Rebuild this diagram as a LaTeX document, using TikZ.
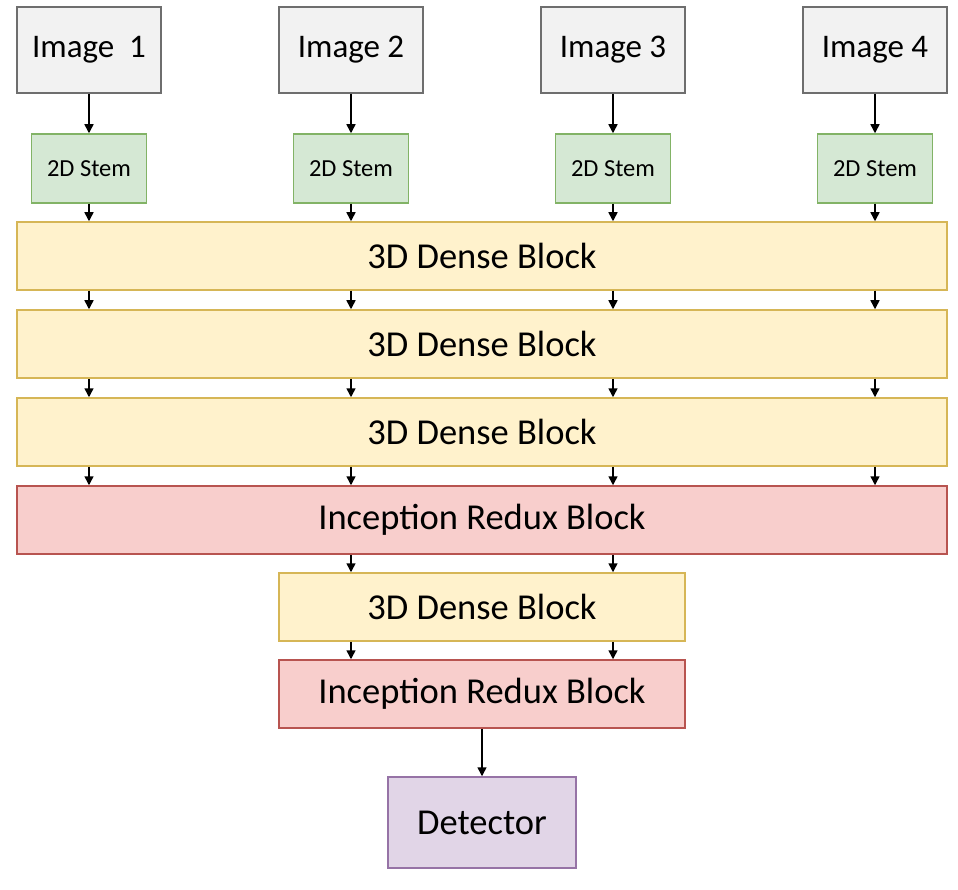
\documentclass[tikz,border=0pt]{standalone}
\usepackage{fontspec}
\setmainfont{Carlito}
\usetikzlibrary{arrows.meta}
\definecolor{grayF}{HTML}{F2F2F2}\definecolor{grayD}{HTML}{6E6E6E}
\definecolor{greenF}{HTML}{D5E8D4}\definecolor{greenD}{HTML}{82B366}
\definecolor{yelF}{HTML}{FFF2CC}\definecolor{yelD}{HTML}{D6B656}
\definecolor{redF}{HTML}{F8CECC}\definecolor{redD}{HTML}{B85450}
\definecolor{purF}{HTML}{E1D5E7}\definecolor{purD}{HTML}{9673A6}
\tikzset{
  box/.style={draw, line width=1.5pt, inner sep=0pt, font=\fontsize{36.5}{36.5}\selectfont},
  imgbox/.style={box, fill=grayF, draw=grayD, minimum width=144pt, minimum height=86pt, font=\fontsize{33}{33}\selectfont},
  stembox/.style={box, fill=greenF, draw=greenD, minimum width=115pt, minimum height=69pt, font=\fontsize{24.5}{24.5}\selectfont},
  densebox/.style={box, fill=yelF, draw=yelD, minimum height=68pt},
  incbox/.style={box, fill=redF, draw=redD, minimum height=68pt},
  detbox/.style={box, fill=purF, draw=purD, minimum width=188pt, minimum height=91pt},
  arr/.style={draw=black, line width=1.5pt, -{Triangle[length=9pt,width=9pt]}}
}
\begin{document}
\begin{tikzpicture}[x=1pt,y=-1pt]
\useasboundingbox (0,0) rectangle (958,890);
\node[imgbox] (i1) at (89,50) {Image\ \ 1};
\node[imgbox] (i2) at (351,50) {Image 2};
\node[imgbox] (i3) at (613,50) {Image 3};
\node[imgbox] (i4) at (875,50) {Image 4};
\node[stembox] (s1) at (89,168.5) {2D Stem};
\node[stembox] (s2) at (351,168.5) {2D Stem};
\node[stembox] (s3) at (613,168.5) {2D Stem};
\node[stembox] (s4) at (875,168.5) {2D Stem};
\node[densebox, minimum width=930pt] (d1) at (482,256) {3D Dense Block};
\node[densebox, minimum width=930pt] (d2) at (482,344) {3D Dense Block};
\node[densebox, minimum width=930pt] (d3) at (482,432) {3D Dense Block};
\node[incbox, minimum width=930pt] (r1) at (482,520) {Inception Redux Block};
\node[densebox, minimum width=406pt] (d4) at (482,607) {3D Dense Block};
\node[incbox, minimum width=406pt] (r2) at (482,694) {Inception Redux Block};
\node[detbox] (det) at (482,822.5) {Detector};
\foreach \k in {1,2,3,4}{
  \draw[arr] (i\k) -- (s\k);
  \draw[arr] (s\k) -- (d1.north -| s\k);
  \draw[arr] (d1.south -| s\k) -- (d2.north -| s\k);
  \draw[arr] (d2.south -| s\k) -- (d3.north -| s\k);
  \draw[arr] (d3.south -| s\k) -- (r1.north -| s\k);
}
\foreach \k in {2,3}{
  \draw[arr] (r1.south -| s\k) -- (d4.north -| s\k);
  \draw[arr] (d4.south -| s\k) -- (r2.north -| s\k);
}
\draw[arr] (r2) -- (det);
\end{tikzpicture}
\end{document}
